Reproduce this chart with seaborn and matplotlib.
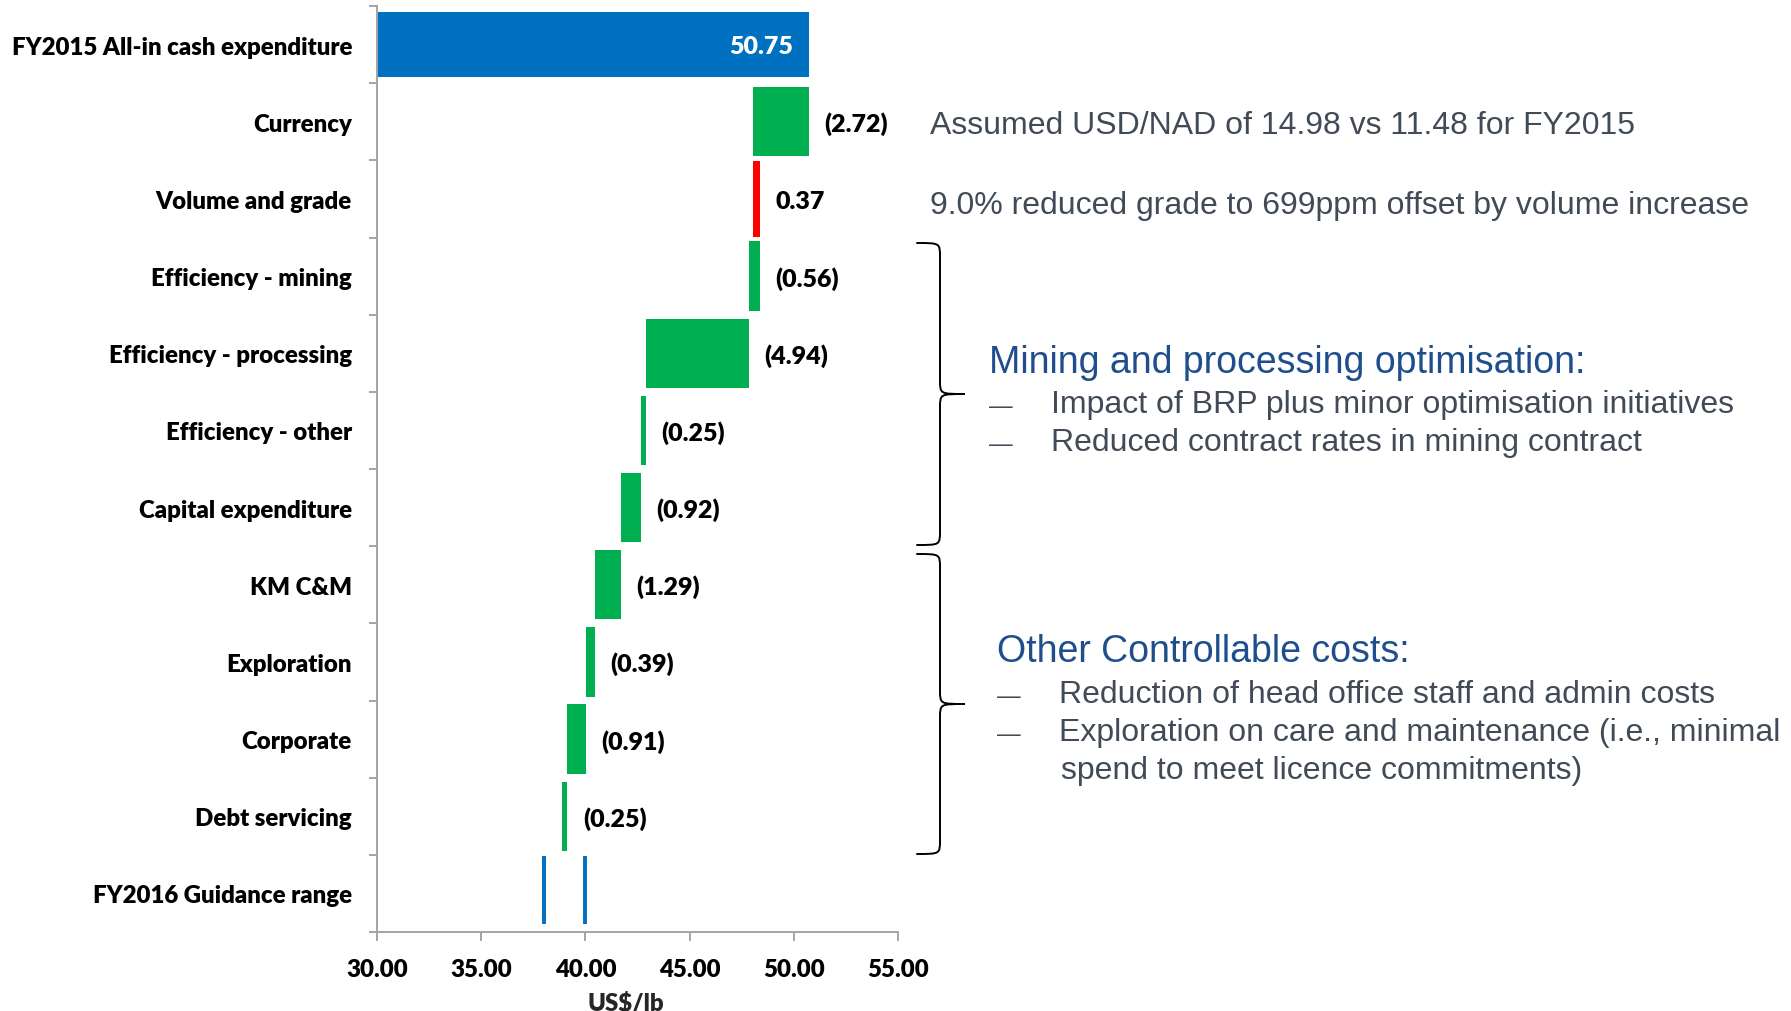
import matplotlib
matplotlib.use("Agg")
import matplotlib.pyplot as plt
import seaborn as sns
import numpy as np
import pandas as pd
from matplotlib.path import Path
from matplotlib.patches import PathPatch
from matplotlib import font_manager

# ---------------- data ----------------
categories = [
    "FY2015 All-in cash expenditure", "Currency", "Volume and grade",
    "Efficiency - mining", "Efficiency - processing", "Efficiency - other",
    "Capital expenditure", "KM C&M", "Exploration", "Corporate",
    "Debt servicing", "FY2016 Guidance range",
]
start_value = 50.75
deltas = [-2.72, 0.37, -0.56, -4.94, -0.25, -0.92, -1.29, -0.39, -0.91, -0.25]
guidance_range = [38.0, 40.0]
x_ticks = [30, 35, 40, 45, 50, 55]
x_label = "US$/lb"

note_top = ["Assumed USD/NAD of 14.98 vs 11.48 for FY2015",
            "9.0% reduced grade to 699ppm offset by volume increase"]
heading_1 = "Mining and processing optimisation:"
bullets_1 = ["Impact of BRP plus minor optimisation initiatives",
             "Reduced contract rates in mining contract"]
heading_2 = "Other Controllable costs:"
bullets_2 = ["Reduction of head office staff and admin costs",
             "Exploration on care and maintenance (i.e., minimal"]
bullet_2_cont = "spend to meet licence commitments)"

# ---------------- style ----------------
BLUE = "#0070C0"
GREEN = "#00B050"
RED = "#FF0000"
AXIS_GRAY = "#A6A6A6"
TEXT_GRAY = "#414B57"
HEAD_BLUE = "#1F4E8C"

sns.set_theme(style="white")
fams = {f.name for f in font_manager.fontManager.ttflist}
CHART_FONT = "Lato" if "Lato" in fams else "DejaVu Sans"
NOTE_FONT = "Liberation Sans" if "Liberation Sans" in fams else "DejaVu Sans"
plt.rcParams["font.family"] = [CHART_FONT, "DejaVu Sans"]

LBL_FS = 17.3
VAL_FS = 18
WEIGHT = "heavy"

W, H = 1791, 1012
fig = plt.figure(figsize=(W / 100, H / 100), dpi=100)
fig.patch.set_facecolor("white")

ax_left, ax_right, ax_top, ax_bottom = 377, 898, 7, 933
ax = fig.add_axes([ax_left / W, 1 - ax_bottom / H,
                   (ax_right - ax_left) / W, (ax_bottom - ax_top) / H])

# ---------------- waterfall table ----------------
rows = [dict(category=categories[0], left=0.0, span=start_value, kind="start",
             label=f"{start_value:.2f}", end=start_value)]
running = start_value
for cat, d in zip(categories[1:-1], deltas):
    new = running + d
    lo, hi = min(running, new), max(running, new)
    rows.append(dict(category=cat, left=lo, span=hi - lo,
                     kind="decrease" if d < 0 else "increase",
                     label=f"({abs(d):.2f})" if d < 0 else f"{d:.2f}", end=hi))
    running = new
df = pd.DataFrame(rows)

for kind, color, bw in [("start", BLUE, 0.84), ("decrease", GREEN, 0.9),
                        ("increase", RED, 0.98)]:
    sub = df[df["kind"] == kind]
    sns.barplot(data=sub, x="span", y="category", order=categories, orient="y",
                color=color, saturation=1, width=bw, errorbar=None,
                left=sub["left"].to_numpy(), linewidth=0, ax=ax)

g_idx = categories.index("FY2016 Guidance range")
ax.vlines(guidance_range, g_idx - 0.49, g_idx + 0.39, colors=BLUE, linewidth=2.8)

# value labels
for _, r in df.iterrows():
    yi = categories.index(r["category"])
    if r["kind"] == "start":
        ax.annotate(r["label"], (r["end"], yi), xytext=(-12, -1),
                    textcoords="offset points", ha="right", va="center",
                    color="white", fontsize=VAL_FS, fontweight=WEIGHT)
    else:
        ax.annotate(r["label"], (r["end"], yi), xytext=(11, -1.2),
                    textcoords="offset points", ha="left", va="center",
                    color="black", fontsize=VAL_FS, fontweight=WEIGHT)

# axes formatting
ax.set_xlim(x_ticks[0], x_ticks[-1])
ax.set_ylim(len(categories) - 0.5, -0.5)
ax.set_xticks(x_ticks)
ax.set_xticklabels([f"{t:.2f}" for t in x_ticks], fontsize=LBL_FS, fontweight=WEIGHT)
ax.set_yticks(range(len(categories)))
ax.set_yticklabels(categories, fontsize=LBL_FS, fontweight=WEIGHT)
ax.set_yticks(np.arange(-0.5, len(categories), 1.0), minor=True)
ax.set_ylabel("")
ax.set_xlabel(x_label, fontsize=LBL_FS, fontweight=WEIGHT, labelpad=8)
ax.xaxis.label.set_x(0.478)
ax.tick_params(axis="y", which="major", length=0, pad=18, colors="black")
ax.tick_params(axis="y", which="minor", length=5.8, width=1.44, color=AXIS_GRAY,
               direction="out", left=True)
ax.tick_params(axis="x", which="major", length=6.5, width=1.44, color=AXIS_GRAY,
               direction="out", pad=12, bottom=True, labelcolor="black")
for s in ["top", "right"]:
    ax.spines[s].set_visible(False)
for s in ["left", "bottom"]:
    ax.spines[s].set_color(AXIS_GRAY)
    ax.spines[s].set_linewidth(1.44)

# ---------------- annotations overlay (pixel coordinates) ----------------
ov = fig.add_axes([0, 0, 1, 1])
ov.set_xlim(0, W)
ov.set_ylim(H, 0)
ov.axis("off")
ov.patch.set_alpha(0)


def brace(axis, x0, xv, xt, y0, y1, r=14):
    ym = (y0 + y1) / 2
    verts = [(x0, y0), (xv, y0), (xv, y0), (xv, y0 + r),
             (xv, ym - r),
             (xv, ym), (xv, ym), (xt, ym),
             (xv, ym), (xv, ym), (xv, ym + r),
             (xv, y1 - r),
             (xv, y1), (xv, y1), (x0, y1)]
    codes = [Path.MOVETO, Path.CURVE4, Path.CURVE4, Path.CURVE4,
             Path.LINETO,
             Path.CURVE4, Path.CURVE4, Path.CURVE4,
             Path.CURVE4, Path.CURVE4, Path.CURVE4,
             Path.LINETO,
             Path.CURVE4, Path.CURVE4, Path.CURVE4]
    axis.add_patch(PathPatch(Path(verts, codes), fill=False, lw=1.4,
                             edgecolor="black", capstyle="round"))


brace(ov, 917, 940, 965, 244, 546)
brace(ov, 917, 940, 965, 555, 855)

nkw = dict(family=[NOTE_FONT, "DejaVu Sans"], va="baseline", ha="left")
ov.text(930, 134, note_top[0], fontsize=23, color=TEXT_GRAY, **nkw)
ov.text(930, 214, note_top[1], fontsize=23, color=TEXT_GRAY, **nkw)

ov.text(989, 373, heading_1, fontsize=27, color=HEAD_BLUE, **nkw)
for y, t in zip([413, 451], bullets_1):
    ov.text(989, y, "\u2014", fontsize=17, color=TEXT_GRAY, **nkw)
    ov.text(1051, y, t, fontsize=23, color=TEXT_GRAY, **nkw)

ov.text(997, 662, heading_2, fontsize=27, color=HEAD_BLUE, **nkw)
for y, t in zip([703, 741], bullets_2):
    ov.text(997, y, "\u2014", fontsize=17, color=TEXT_GRAY, **nkw)
    ov.text(1059, y, t, fontsize=23, color=TEXT_GRAY, **nkw)
ov.text(1061, 779, bullet_2_cont, fontsize=23, color=TEXT_GRAY, **nkw)

fig.savefig("out.png", dpi=100, facecolor="white")
